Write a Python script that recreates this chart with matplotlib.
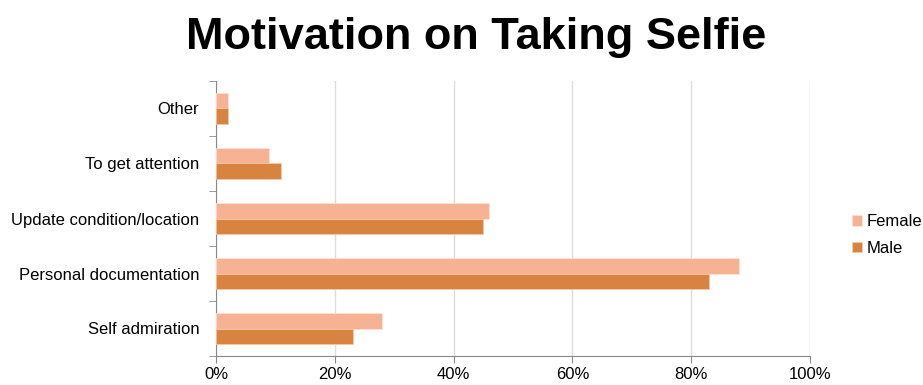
import numpy as np
import matplotlib
matplotlib.use('Agg')
import matplotlib.pyplot as plt
from matplotlib.ticker import FixedLocator, PercentFormatter

plt.rcParams['font.family'] = ['Liberation Sans', 'DejaVu Sans']

# categories listed bottom to top
categories = ['Self admiration', 'Personal documentation', 'Update condition/location',
              'To get attention', 'Other']
female = [28, 88, 46, 9, 2]
male = [23, 83, 45, 11, 2]
x_ticks = [0, 20, 40, 60, 80, 100]

female_color = '#F7B293'
male_color = '#D98340'

fig = plt.figure(figsize=(9.23, 3.85), dpi=100)
ax = fig.add_axes([216 / 923, 1 - 356 / 385, (810 - 216) / 923, (356 - 81) / 385])

y = np.arange(len(categories))
h = 0.28
ax.barh(y + h / 2, female, height=h, color=female_color, edgecolor='#FCE3D6',
        linewidth=0.6, label='Female', zorder=3)
ax.barh(y - h / 2, male, height=h, color=male_color, edgecolor='#F3C9A8',
        linewidth=0.6, label='Male', zorder=3)

ax.set_xlim(0, 100)
ax.set_ylim(-0.5, len(categories) - 0.5)
ax.set_xticks(x_ticks)
ax.xaxis.set_major_formatter(PercentFormatter(decimals=0))
ax.set_yticks(y)
ax.set_yticklabels(categories)
ax.yaxis.set_minor_locator(FixedLocator(np.arange(-0.5, len(categories), 1)))
ax.tick_params(axis='y', which='major', length=0, pad=12, labelsize=12)
ax.tick_params(axis='y', which='minor', length=5, color='#888888', direction='out')
ax.tick_params(axis='x', length=5, color='#888888', labelsize=12, pad=3)

ax.grid(axis='x', color='#DDDDDD', linewidth=1, zorder=0)
for side in ['top', 'right']:
    ax.spines[side].set_visible(False)
for side in ['left', 'bottom']:
    ax.spines[side].set_color('#888888')

fig.suptitle('Motivation on Taking Selfie', fontsize=32.5, fontweight='bold',
             y=0.955, x=0.516)

ax.legend(loc='center left', bbox_to_anchor=(1.045, 0.44), frameon=False,
          fontsize=12, handlelength=0.6, handleheight=0.6, handletextpad=0.3,
          labelspacing=0.7)

fig.savefig('out.png', dpi=100)
plt.close(fig)
